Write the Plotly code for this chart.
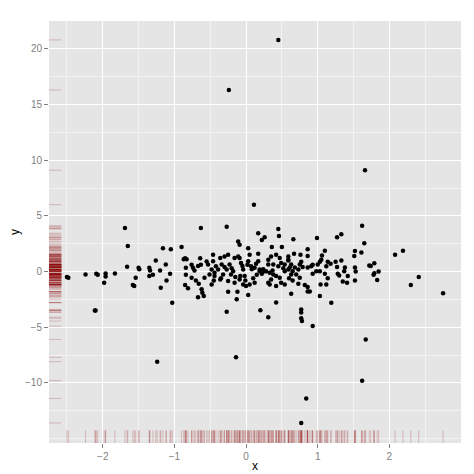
import plotly.graph_objects as go

x_vals = [0.45,-0.24,1.66,0.11,-0.14,-1.24,1.62,1.67,0.84,0.77,0.93,0.77,0.77,-2.5,-2.1,
 -2.48,-2.24,-2.09,-2.07,-1.96,-1.96,-1.98,-1.83,-2.11,-1.69,-1.65,-1.66,-1.5,-1.49,-1.54,-1.58,-1.56,
 -1.35,-1.34,-1.35,-1.30,-1.26,-1.20,-1.12,-1.16,-1.05,-1.11,-1.19,-1.03,-1.06,-0.90,-0.87,-0.85,-0.83,
 -0.84,-0.76,-0.74,-0.84,-0.76,-0.70,-0.66,-0.85,-0.81,-0.63,-0.64,-0.67,-0.63,-0.58,-0.62,-0.61,-0.67,-0.59,
 -0.53,-0.48,-0.51,-0.46,-0.46,-0.42,-0.44,-0.39,-0.36,-0.34,-0.32,-0.30,-0.25,-0.27,-0.23,-0.21,-0.18,-0.16,
 -0.11,-0.09,-0.07,-0.04,-0.02,0.03,0.05,0.07,0.12,0.17,0.19,0.24,0.26,-0.45,-0.36,-0.25,-0.16,-0.09,-0.04,
 0.00,0.05,0.12,-0.25,-0.12,0.03,-0.13,-0.27,0.20,-0.27,-0.11,-0.09,0.03,0.17,0.22,0.17,-0.48,-0.44,
 0.26,0.45,0.46,0.66,0.99,1.27,1.33,1.62,1.65,0.36,0.50,0.86,0.67,0.76,0.86,1.10,1.06,1.52,1.61,1.51,
 2.08,2.19,2.41,2.30,2.75,1.72,1.79,1.74,1.79,1.85,1.83,1.78,1.52,1.53,1.52,1.38,1.37,1.42,1.35,1.41,
 1.28,1.30,1.27,1.25,1.33,1.14,1.18,1.12,1.05,1.03,1.00,0.98,1.03,0.93,1.10,1.14,1.04,1.12,1.03,1.19,
 0.91,0.93,0.86,0.77,0.79,0.75,0.73,0.68,0.70,0.75,0.63,0.61,0.59,0.59,0.65,0.73,0.82,0.86,0.89,0.86,
 0.63,0.77,0.78,0.42,0.31,0.54,0.49,0.47,0.42,0.38,0.33,0.28,0.24,0.19,0.45,0.49,0.38,0.31,0.31,0.35,
 0.42,0.47,0.59,0.54,0.35,0.42,0.33,0.31,0.63,0.65,0.59,0.54,
 -0.05,-0.15,0.10,0.14,-0.30,-0.20,0.08,-0.01,0.15,-0.35,-0.55,-0.72,0.02,0.22,-0.08,0.37,0.52,0.60]
y_vals = [20.8,16.3,9.1,6.0,-7.7,-8.1,-9.8,-6.1,-11.4,-13.6,-4.9,-4.2,-3.4,-0.5,-3.5,
 -0.56,-0.27,-0.2,-0.3,-0.18,-0.44,-1.0,-0.18,-3.5,3.9,2.3,0.44,0.35,0.2,-0.56,-1.2,-1.3,
 0.35,0.1,-0.4,-0.3,1.0,0.1,0.62,2.1,2.0,-0.8,-1.45,-2.8,-0.2,2.2,1.1,1.2,1.1,
 0.35,0.6,0.35,-0.3,-0.55,-0.8,-1.1,-1.2,-1.5,3.9,1.2,0.5,0.6,-0.55,-1.6,-1.9,-2.3,-2.2,
 0.62,0.18,-0.27,1.51,0.92,0.47,-0.12,0.18,1.21,0.62,-0.27,1.36,1.51,0.18,0.62,-0.27,0.03,1.21,
 1.36,1.21,0.77,0.18,-0.41,0.92,1.51,0.47,0.33,0.92,0.03,0.18,0.03,-0.80,-0.71,-0.86,-1.0,-0.71,-1.16,
 -1.30,-1.16,-1.0,-1.81,-1.81,-2.1,-2.49,-3.62,-3.47,4.03,2.69,2.4,2.1,3.44,2.84,1.6,-1.16,-0.41,
 3.08,3.82,3.2,2.9,3.0,3.08,3.35,4.12,2.55,2.2,2.2,2.0,1.6,1.5,1.4,1.87,1.45,1.85,1.7,1.4,
 1.51,1.87,-0.50,-1.22,-1.96,0.55,0.75,0.5,-0.15,0.0,-0.76,-0.3,0.36,0.0,-0.8,0.36,0.03,-0.41,-0.9,-1.0,
 -0.2,-0.35,0.4,0.87,1.0,0.87,0.7,0.47,1.06,0.87,0.62,0.03,0.03,-0.2,-0.2,-0.6,-1.16,-1.16,-2.2,-2.8,
 0.47,0.6,0.36,0.87,0.4,0.62,0.18,0.36,-0.27,-0.55,-0.27,0.36,1.06,1.36,-0.8,-1.1,-1.2,-1.4,-1.8,-1.8,
 -1.99,-3.67,-4.45,-2.78,-4.1,-1.16,-1.0,-0.55,-0.41,-0.27,-0.12,0.03,0.18,0.18,0.47,0.77,0.62,0.62,1.06,1.36,
 1.51,1.21,1.0,0.62,-0.71,-1.3,-1.16,-1.0,0.62,0.03,0.18,0.03,
 0.5,-0.5,-0.6,0.7,0.4,0.3,0.2,-0.8,-0.3,-0.6,0.9,0.1,0.6,-0.2,-0.4,0.1,0.3,-0.6]

x_range = [-2.75, 3.0]
y_range = [-15.4, 22.5]
x_ticks = [-2, -1, 0, 1, 2]
y_ticks = [-10, -5, 0, 5, 10, 15, 20]

fig = go.Figure()
fig.add_trace(go.Scatter(x=x_vals, y=y_vals, mode="markers",
                         marker=dict(color="black", size=4.5), hoverinfo="skip"))

rug = "rgba(139,0,0,0.22)"
shapes = []
for xv in x_vals:
    shapes.append(dict(type="line", xref="x", yref="y domain", x0=xv, x1=xv, y0=0, y1=0.03,
                       line=dict(color=rug, width=1)))
for yv in y_vals:
    shapes.append(dict(type="line", xref="x domain", yref="y", x0=0, x1=0.03, y0=yv, y1=yv,
                       line=dict(color=rug, width=1)))
fig.update_layout(shapes=shapes)

font = "Liberation Sans, Arial"
axis_common = dict(showgrid=True, gridcolor="white", gridwidth=1.2, zeroline=False,
                   ticks="outside", ticklen=4, tickcolor="#7F7F7F",
                   tickfont=dict(family=font, size=10, color="#7F7F7F"),
                   showline=False)
fig.update_xaxes(range=x_range, tickvals=x_ticks, automargin=True,
                 title=dict(text="x", standoff=0, font=dict(family=font, size=12, color="black")),
                 minor=dict(showgrid=True, gridcolor="#F2F2F2", gridwidth=0.6, dtick=0.5, tick0=0.5),
                 **axis_common)
fig.update_yaxes(range=y_range, tickvals=y_ticks, automargin=False,
                 title=dict(text="y", standoff=4, font=dict(family=font, size=12, color="black")),
                 minor=dict(showgrid=True, gridcolor="#F2F2F2", gridwidth=0.6, dtick=2.5, tick0=2.5),
                 **axis_common)
fig.update_layout(width=474, height=474, plot_bgcolor="#E5E5E5", paper_bgcolor="white",
                  margin=dict(l=41, r=21, t=13, b=34), showlegend=False)
fig.write_html("out.html")
